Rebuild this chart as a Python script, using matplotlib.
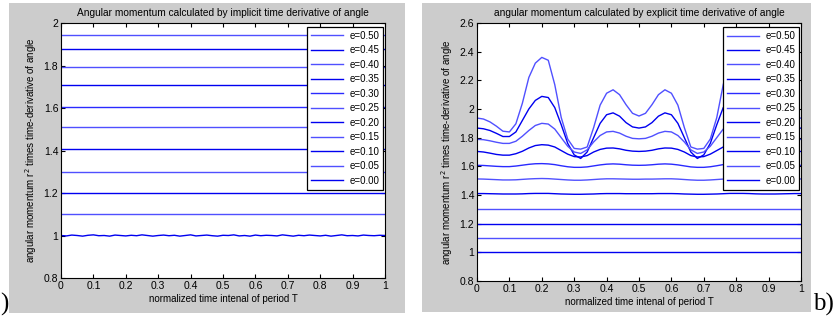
import numpy as np
import matplotlib
matplotlib.use("Agg")
import matplotlib.pyplot as plt
from matplotlib.patches import Rectangle
from matplotlib.ticker import FuncFormatter

plt.rcParams['font.family'] = ['Liberation Sans', 'DejaVu Sans']

# legend labels, top to bottom
e_labels = ["e=0.50", "e=0.45", "e=0.40", "e=0.35", "e=0.30", "e=0.25",
            "e=0.20", "e=0.15", "e=0.10", "e=0.05", "e=0.00"]

# a) implicit derivative: constant levels for e=0.50 .. e=0.05
left_levels = [1.945, 1.880, 1.793, 1.706, 1.605, 1.509, 1.405, 1.300, 1.200, 1.100]
# e=0.00 (slightly noisy around 1)
left_e00 = [1.000, 0.998, 1.002, 1.000, 0.997, 1.001, 1.003, 0.999, 1.000, 0.997,
            1.002, 1.000, 0.998, 1.001, 0.999, 1.003, 1.000, 0.997, 1.000, 1.002,
            0.999, 1.001, 0.997, 1.000, 1.003, 0.998, 1.000, 1.002, 0.999, 0.997,
            1.001, 1.000, 1.003, 0.998, 1.000, 0.997, 1.002, 0.999, 1.001, 1.000,
            0.998, 1.003, 1.000, 0.997, 1.001, 0.999, 1.002, 1.000, 0.998, 1.001,
            0.997, 1.000, 1.003, 0.999, 1.000, 0.998, 1.002, 1.000, 0.999, 1.001, 1.000]

# b) explicit derivative, sampled every 0.02 of T
t_right = [i / 50 for i in range(51)]
r_e50 = [1.937, 1.930, 1.910, 1.880, 1.845, 1.840, 1.897, 2.040, 2.220, 2.320, 2.360, 2.340, 2.170,
         1.940, 1.790, 1.725, 1.720, 1.735, 1.870, 2.027, 2.110, 2.134, 2.100, 2.030, 1.970, 1.951,
         1.970, 2.030, 2.100, 2.134, 2.110, 2.027, 1.870, 1.735, 1.720, 1.725, 1.790, 1.940, 2.170,
         2.340, 2.360, 2.320, 2.220, 2.040, 1.897, 1.840, 1.845, 1.880, 1.910, 1.930, 1.937]
r_e45 = [1.867, 1.862, 1.850, 1.830, 1.808, 1.808, 1.840, 1.920, 2.000, 2.060, 2.088, 2.080, 2.010,
         1.890, 1.760, 1.680, 1.655, 1.700, 1.800, 1.900, 1.960, 1.973, 1.950, 1.905, 1.875, 1.867,
         1.875, 1.905, 1.950, 1.973, 1.960, 1.900, 1.800, 1.700, 1.655, 1.680, 1.760, 1.890, 2.010,
         2.080, 2.088, 2.060, 2.000, 1.920, 1.840, 1.808, 1.808, 1.830, 1.850, 1.862, 1.867]
r_e40 = [1.788, 1.786, 1.778, 1.768, 1.760, 1.760, 1.775, 1.810, 1.850, 1.885, 1.900, 1.895, 1.860,
         1.800, 1.740, 1.700, 1.690, 1.715, 1.770, 1.815, 1.840, 1.844, 1.832, 1.810, 1.795, 1.792,
         1.795, 1.810, 1.832, 1.844, 1.840, 1.815, 1.770, 1.715, 1.690, 1.700, 1.740, 1.800, 1.860,
         1.895, 1.900, 1.885, 1.850, 1.810, 1.775, 1.760, 1.760, 1.768, 1.778, 1.786, 1.788]
r_e35 = [1.704, 1.700, 1.692, 1.683, 1.678, 1.678, 1.688, 1.705, 1.728, 1.745, 1.751, 1.748, 1.735,
         1.710, 1.685, 1.668, 1.665, 1.675, 1.700, 1.718, 1.727, 1.728, 1.722, 1.712, 1.706, 1.704,
         1.706, 1.712, 1.722, 1.728, 1.727, 1.718, 1.700, 1.675, 1.665, 1.668, 1.685, 1.710, 1.735,
         1.748, 1.751, 1.745, 1.728, 1.705, 1.688, 1.678, 1.678, 1.683, 1.692, 1.700, 1.704]
r_e30 = [1.607, 1.606, 1.603, 1.600, 1.598, 1.598, 1.602, 1.608, 1.614, 1.618, 1.619, 1.617, 1.612,
         1.604, 1.597, 1.593, 1.593, 1.596, 1.603, 1.610, 1.615, 1.617, 1.615, 1.611, 1.608, 1.607,
         1.608, 1.611, 1.615, 1.617, 1.615, 1.610, 1.603, 1.596, 1.593, 1.593, 1.597, 1.604, 1.612,
         1.617, 1.619, 1.618, 1.614, 1.608, 1.602, 1.598, 1.598, 1.600, 1.603, 1.606, 1.607]
r_e25 = [1.512, 1.511, 1.509, 1.507, 1.505, 1.505, 1.506, 1.509, 1.512, 1.514, 1.515, 1.514, 1.511,
         1.508, 1.505, 1.503, 1.503, 1.505, 1.508, 1.511, 1.513, 1.513, 1.512, 1.511, 1.510, 1.510,
         1.511, 1.511, 1.512, 1.513, 1.513, 1.511, 1.508, 1.505, 1.503, 1.503, 1.505, 1.508, 1.511,
         1.514, 1.515, 1.514, 1.512, 1.509, 1.506, 1.505, 1.505, 1.507, 1.509, 1.511, 1.512]
r_e20 = [1.410, 1.410, 1.409, 1.408, 1.407, 1.407, 1.407, 1.408, 1.410, 1.411, 1.411, 1.411, 1.409,
         1.407, 1.406, 1.405, 1.405, 1.406, 1.407, 1.409, 1.410, 1.410, 1.410, 1.409, 1.409, 1.409,
         1.409, 1.409, 1.410, 1.410, 1.410, 1.409, 1.407, 1.406, 1.405, 1.405, 1.406, 1.407, 1.409,
         1.411, 1.411, 1.411, 1.410, 1.408, 1.407, 1.407, 1.407, 1.408, 1.409, 1.410, 1.410]
# flat ones for e=0.15 .. e=0.00
r_flat = [1.300, 1.200, 1.100, 1.000]

line_cols = ["#5050ff", "#0000f0", "#5050ff", "#0000f0", "#2a2aff", "#5050ff",
             "#0000f0", "#5050ff", "#0000f0", "#5050ff", "#0000f0"]

W, H = 833, 320
fig = plt.figure(figsize=(W / 100, H / 100), dpi=100)
fig.patch.set_facecolor("white")

# grey matlab figure backgrounds
fig.patches.append(Rectangle((9 / W, 1 - 313 / H), 396 / W, 310 / H,
                             transform=fig.transFigure, facecolor="#cccccc",
                             edgecolor="none", zorder=-5))
fig.patches.append(Rectangle((422 / W, 1 - 312 / H), 389 / W, 309 / H,
                             transform=fig.transFigure, facecolor="#cccccc",
                             edgecolor="none", zorder=-5))

ax1 = fig.add_axes([61 / W, 1 - 278 / H, 324 / W, 255 / H])
ax2 = fig.add_axes([477 / W, 1 - 281 / H, 324 / W, 258 / H])

# left panel
for i, lvl in enumerate(left_levels):
    ax1.plot([0, 1], [lvl, lvl], color=line_cols[i], lw=1.0, label=e_labels[i])
ax1.plot(np.linspace(0, 1, len(left_e00)), left_e00, color=line_cols[10], lw=1.0,
         label=e_labels[10])

# right panel
r_curves = [r_e50, r_e45, r_e40, r_e35, r_e30, r_e25, r_e20]
for i, vals in enumerate(r_curves):
    ax2.plot(t_right, vals, color=line_cols[i], lw=1.0, label=e_labels[i])
for j, lvl in enumerate(r_flat):
    k = len(r_curves) + j
    ax2.plot([0, 1], [lvl, lvl], color=line_cols[k], lw=1.0, label=e_labels[k])

fmt = FuncFormatter(lambda v, p: "%g" % round(v, 2))
for ax, ymax, title in [
        (ax1, 2.0, "Angular momentum calculated by implicit time derivative of angle"),
        (ax2, 2.6, "angular momentum calculated by explicit time derivative of angle")]:
    ax.set_xlim(0, 1)
    ax.set_ylim(0.8, ymax)
    ax.set_xticks(np.arange(0, 1.01, 0.1))
    ax.set_yticks(np.arange(0.8, ymax + 0.01, 0.2))
    ax.xaxis.set_major_formatter(fmt)
    ax.yaxis.set_major_formatter(fmt)
    ax.tick_params(direction="in", top=True, right=True, length=3, width=0.8,
                   labelsize=7.5, pad=2)
    for sp in ax.spines.values():
        sp.set_linewidth(0.8)
    ax.set_title(title, fontsize=7.3, pad=5)
    ax.set_xlabel("normalized time intenal of period T", fontsize=7, labelpad=2)
    ax.set_ylabel(r"angular momentum r$^2$ times time-derivative of angle",
                  fontsize=7, labelpad=3)
    leg = ax.legend(loc="upper right", bbox_to_anchor=(1 - 2 / 324, 1 - 4 / 255),
                    borderaxespad=0, fontsize=7, handlelength=3.3, handletextpad=0.6,
                    labelspacing=0.46, borderpad=0.4, fancybox=False,
                    framealpha=1, edgecolor="black")
    leg.get_frame().set_linewidth(0.9)

# panel letters
fig.text(0 / W, 1 - 316 / H, ")", fontsize=18, family="Liberation Serif",
         ha="left", va="bottom")
fig.text(813 / W, 1 - 316 / H, "b)", fontsize=18, family="Liberation Serif",
         ha="left", va="bottom")

fig.savefig("out.png", dpi=100, facecolor=fig.get_facecolor())
